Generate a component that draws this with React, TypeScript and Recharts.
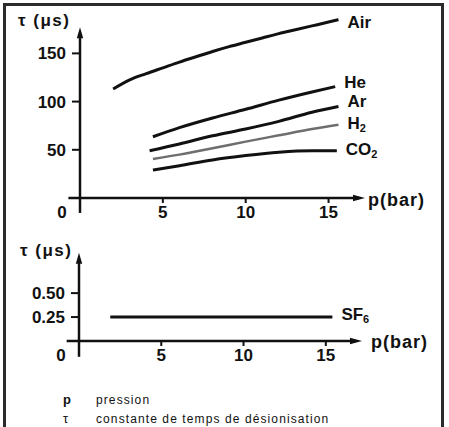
import React from "react";
import { LineChart, Line, XAxis, YAxis, ReferenceLine, LabelList } from "recharts";

// pressure (bar) / deionisation time constant (µs)
const AIR_P = [2, 3, 4, 5, 6, 7, 8, 9, 10, 11, 12, 13, 14, 15, 15.6];
const AIR_T = [113, 122.5, 129, 135, 141, 146.5, 152, 157, 161.5, 166, 170.5, 174.5, 178.5, 182.5, 185];
const HE_P = [4.4, 6, 8, 10, 12, 14, 15.4];
const HE_T = [63.5, 73, 83, 92, 101.5, 110, 115.5];
const AR_P = [4.2, 6, 8, 10, 12, 14, 15.6];
const AR_T = [49, 56, 64.5, 71.5, 79.5, 89, 95];
const H2_P = [4.4, 6, 8, 10, 12, 14, 15.6];
const H2_T = [40.5, 45, 51.5, 58.5, 65, 71.5, 76];
const CO2_P = [4.4, 6, 8, 10, 12, 14, 15.5];
const CO2_T = [29, 33.5, 39.5, 44, 47.5, 49, 49];
const SF6_P = [1.9, 15.4];
const SF6_T = [0.25, 0.25];

const X_TICKS = [0, 5, 10, 15];
const TOP_Y_TICKS = [50, 100, 150];
const BOTTOM_Y_MAJOR = [0.25, 0.5];
const BOTTOM_Y_MINOR = [0.125, 0.375, 0.625];

const FONT = '"Liberation Sans", Arial, Helvetica, sans-serif';
const INK = "#111";
const TICK_FONT = { fill: INK, fontSize: 17, fontWeight: "bold", fontFamily: FONT };

const zip = (ps: number[], ts: number[]) => ps.map((p, i) => ({ p, t: ts[i] }));

function endLabel(name: string, sub: string | null, last: number, dy: number) {
  return (props: any) => {
    if (props.index !== last) return null;
    return (
      <text x={props.x + 9} y={props.y + dy + 6} fill={INK} fontFamily={FONT} fontWeight="bold" fontSize={17}>
        {name}
        {sub && (
          <tspan fontSize={11} dy={3}>
            {sub}
          </tspan>
        )}
      </text>
    );
  };
}

const arrowX = (props: any) => {
  const { x1, y1, x2, y2 } = props;
  return (
    <g>
      <line x1={x1} y1={y1} x2={x2 - 6} y2={y2} stroke={INK} strokeWidth={2.5} />
      <polygon points={`${x2},${y2} ${x2 - 12},${y2 - 3.2} ${x2 - 12},${y2 + 3.2}`} fill={INK} />
    </g>
  );
};

const arrowY = (props: any) => {
  const { x1, y1, x2, y2 } = props;
  return (
    <g>
      <line x1={x1} y1={y1} x2={x2} y2={y2 + 6} stroke={INK} strokeWidth={2.5} />
      <polygon points={`${x2},${y2} ${x2 - 3.2},${y2 + 11} ${x2 + 3.2},${y2 + 11}`} fill={INK} />
    </g>
  );
};

const XTick = (props: any) => {
  const { x, y, payload } = props;
  const zero = payload.value === 0;
  return (
    <text x={zero ? x - 18 : x} y={y + 13} textAnchor="middle" fill={INK} fontFamily={FONT} fontWeight="bold" fontSize={17}>
      {payload.value}
    </text>
  );
};

const lineProps = {
  dataKey: "t",
  type: "monotone" as const,
  dot: false,
  isAnimationActive: false,
  strokeWidth: 3,
  stroke: INK,
};

const txt = (extra: React.CSSProperties): React.CSSProperties => ({
  position: "absolute",
  fontFamily: FONT,
  color: INK,
  whiteSpace: "nowrap",
  lineHeight: 1,
  ...extra,
});

export default function App() {
  return (
    <div style={{ position: "absolute", left: 0, top: 0, width: 449, height: 427, overflow: "hidden", background: "#fff" }}>
      <div
        style={{
          position: "absolute",
          left: 3,
          top: 3,
          width: 435,
          height: 440,
          border: "3px solid #2b2b2b",
        }}
      />

      {/* top chart */}
      <div style={{ position: "absolute", left: 0, top: 0 }}>
        <LineChart width={449} height={230} margin={{ top: 10, right: 84, bottom: 31, left: 79 }}>
          <XAxis
            type="number"
            dataKey="p"
            domain={[0, 17.2]}
            ticks={X_TICKS}
            interval={0}
            height={1}
            axisLine={false}
            tickSize={5}
            tickLine={{ stroke: INK, strokeWidth: 2 }}
            tick={<XTick />}
          />
          <YAxis
            type="number"
            domain={[0, 195]}
            ticks={TOP_Y_TICKS}
            interval={0}
            width={1}
            axisLine={false}
            tickSize={8}
            tickMargin={6}
            tickLine={{ stroke: INK, strokeWidth: 2 }}
            tick={TICK_FONT}
          />
          <ReferenceLine segment={[{ x: -0.7, y: 0 }, { x: 17.2, y: 0 }]} ifOverflow="visible" shape={arrowX} />
          <ReferenceLine segment={[{ x: 0, y: -15.5 }, { x: 0, y: 177 }]} ifOverflow="visible" shape={arrowY} />
          <Line {...lineProps} data={zip(AIR_P, AIR_T)} name="Air">
            <LabelList content={endLabel("Air", null, AIR_P.length - 1, 2)} />
          </Line>
          <Line {...lineProps} data={zip(HE_P, HE_T)} name="He">
            <LabelList content={endLabel("He", null, HE_P.length - 1, -5)} />
          </Line>
          <Line {...lineProps} data={zip(AR_P, AR_T)} name="Ar">
            <LabelList content={endLabel("Ar", null, AR_P.length - 1, -5)} />
          </Line>
          <Line {...lineProps} data={zip(H2_P, H2_T)} name="H2" stroke="#6e6e6e" strokeWidth={2.5}>
            <LabelList content={endLabel("H", "2", H2_P.length - 1, -2)} />
          </Line>
          <Line {...lineProps} data={zip(CO2_P, CO2_T)} name="CO2">
            <LabelList content={endLabel("CO", "2", CO2_P.length - 1, -2)} />
          </Line>
        </LineChart>
      </div>

      {/* bottom chart */}
      <div style={{ position: "absolute", left: 0, top: 230 }}>
        <LineChart width={449} height={145} margin={{ top: 20, right: 87, bottom: 33, left: 77 }}>
          <XAxis
            type="number"
            dataKey="p"
            domain={[0, 17.2]}
            ticks={X_TICKS}
            interval={0}
            height={1}
            axisLine={false}
            tickSize={5}
            tickLine={{ stroke: INK, strokeWidth: 2 }}
            tick={<XTick />}
          />
          <YAxis
            type="number"
            domain={[0, 0.95]}
            ticks={BOTTOM_Y_MAJOR}
            interval={0}
            width={1}
            axisLine={false}
            tickSize={8}
            tickMargin={6}
            tickLine={{ stroke: INK, strokeWidth: 2 }}
            tick={TICK_FONT}
            tickFormatter={(v: number) => v.toFixed(2)}
          />
          <YAxis
            yAxisId="minor"
            type="number"
            domain={[0, 0.95]}
            ticks={BOTTOM_Y_MINOR}
            interval={0}
            width={1}
            axisLine={false}
            tickSize={4}
            tickLine={{ stroke: INK, strokeWidth: 1.6 }}
            tick={false}
          />
          <ReferenceLine segment={[{ x: -0.75, y: 0 }, { x: 17.2, y: 0 }]} ifOverflow="visible" shape={arrowX} />
          <ReferenceLine segment={[{ x: 0, y: -0.165 }, { x: 0, y: 0.92 }]} ifOverflow="visible" shape={arrowY} />
          <Line {...lineProps} type="linear" data={zip(SF6_P, SF6_T)} name="SF6">
            <LabelList content={endLabel("SF", "6", SF6_P.length - 1, -3)} />
          </Line>
        </LineChart>
      </div>

      {/* axis titles */}
      <div style={txt({ left: 18, top: 12, fontSize: 17, fontWeight: "bold", letterSpacing: 1.5 })}>τ (μs)</div>
      <div style={txt({ left: 368, top: 191, fontSize: 18, fontWeight: "bold", letterSpacing: 1 })}>p(bar)</div>
      <div style={txt({ left: 20, top: 242, fontSize: 17, fontWeight: "bold", letterSpacing: 1.5 })}>τ (μs)</div>
      <div style={txt({ left: 371, top: 333, fontSize: 18, fontWeight: "bold", letterSpacing: 1 })}>p(bar)</div>

      {/* notation */}
      <div style={txt({ left: 63, top: 393, fontSize: 13, fontWeight: "bold" })}>p</div>
      <div style={txt({ left: 96, top: 394, fontSize: 12, letterSpacing: 1.1 })}>pression</div>
      <div style={txt({ left: 63, top: 412, fontSize: 13 })}>τ</div>
      <div style={txt({ left: 96, top: 413, fontSize: 12, letterSpacing: 1.1 })}>constante de temps de désionisation</div>
    </div>
  );
}
